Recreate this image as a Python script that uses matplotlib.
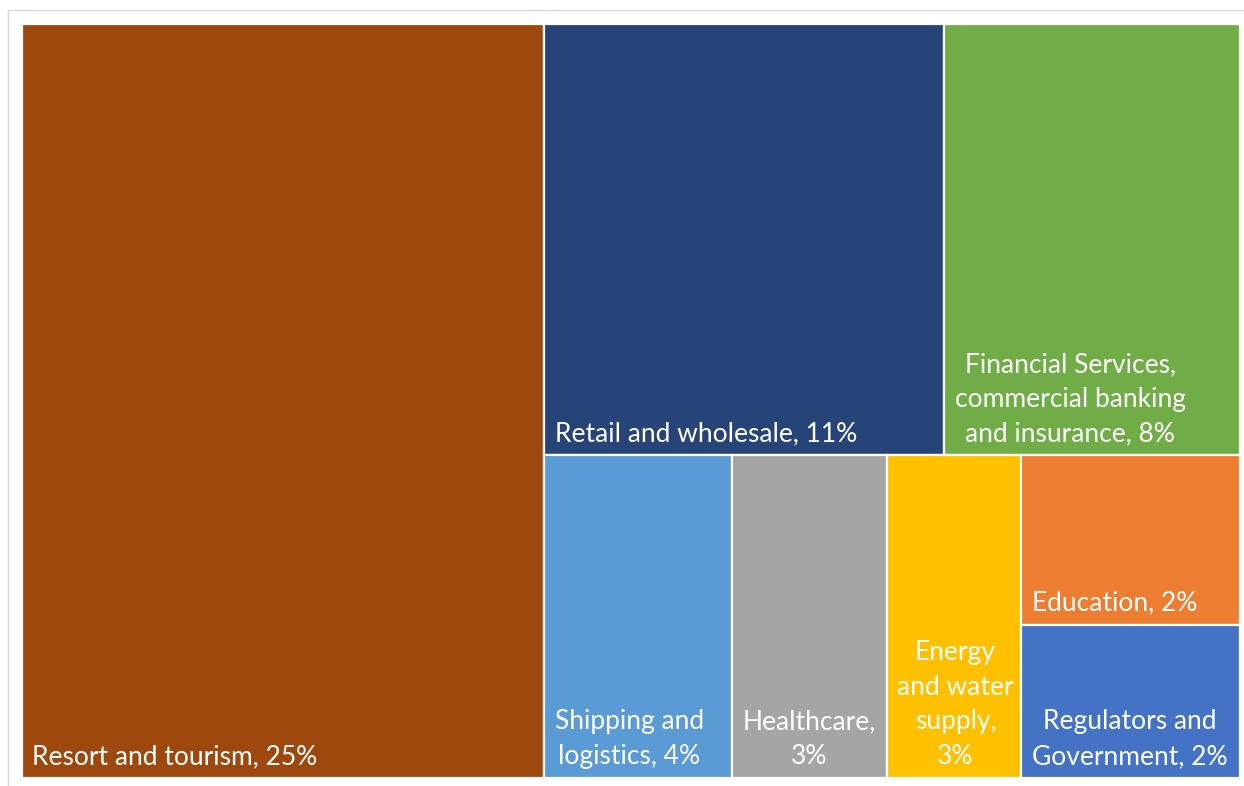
import matplotlib
matplotlib.use("Agg")
from matplotlib import pyplot as plt
from matplotlib.patches import Rectangle

# shares (labels show the rounded values)
shares = [25.0, 10.95, 8.1, 3.84, 3.17, 2.75, 2.35, 2.13]
labels = ["Resort and tourism, 25%", "Retail and wholesale, 11%",
          "Financial Services,\ncommercial banking\nand insurance, 8%",
          "Shipping and\nlogistics, 4%", "Healthcare,\n3%",
          "Energy\nand water\nsupply,\n3%", "Education, 2%",
          "Regulators and\nGovernment, 2%"]
colors = ["#9E480E", "#264478", "#70AD47", "#5B9BD5", "#A5A5A5",
          "#FFC000", "#ED7D31", "#4472C4"]

# how the tiles nest: 'h' = side by side, 'v' = stacked
tree = ("h", [0, ("v", [("h", [1, 2]), ("h", [3, 4, 5, ("v", [6, 7])])])])


def total(node):
    if isinstance(node, int):
        return shares[node]
    return sum(total(n) for n in node[1])


def layout(node, x, y, w, h, out):
    if isinstance(node, int):
        out[node] = (x, y, w, h)
        return
    d, kids = node
    t = total(node)
    for k in kids:
        f = total(k) / t
        if d == "h":
            layout(k, x, y, w * f, h, out)
            x += w * f
        else:
            layout(k, x, y, w, h * f, out)
            y += h * f


W, H = 1218.0, 754.0
rects = {}
layout(tree, 0, 0, W, H, rects)

plt.rcParams['font.family'] = ['Lato', 'DejaVu Sans']
fig = plt.figure(figsize=(12.44, 7.86), dpi=100)
fig.patch.set_facecolor("white")

# light chart frame (partly outside the image)
frame = fig.add_axes([0, 0, 1, 1])
frame.set_xlim(0, 1244)
frame.set_ylim(786, 0)
frame.axis("off")
frame.add_patch(Rectangle((8, 10), 1300, 900, fill=False, edgecolor="#D9D9D9", lw=1.0))

ax = fig.add_axes([22 / 1244, 1 - 778 / 786, W / 1244, H / 786])
ax.set_xlim(0, W)
ax.set_ylim(H, 0)
ax.axis("off")

for i in range(len(shares)):
    x, y, w, h = rects[i]
    ax.add_patch(Rectangle((x, y), w, h, facecolor=colors[i],
                           edgecolor="white", lw=1.6))
    ax.annotate(labels[i], xy=(x, y + h), xytext=(7.5, 6.5),
                textcoords="offset points", ha="left", va="bottom",
                multialignment="center", color="white", fontsize=19,
                linespacing=1.48)

fig.savefig("out.png", dpi=100, facecolor="white")
